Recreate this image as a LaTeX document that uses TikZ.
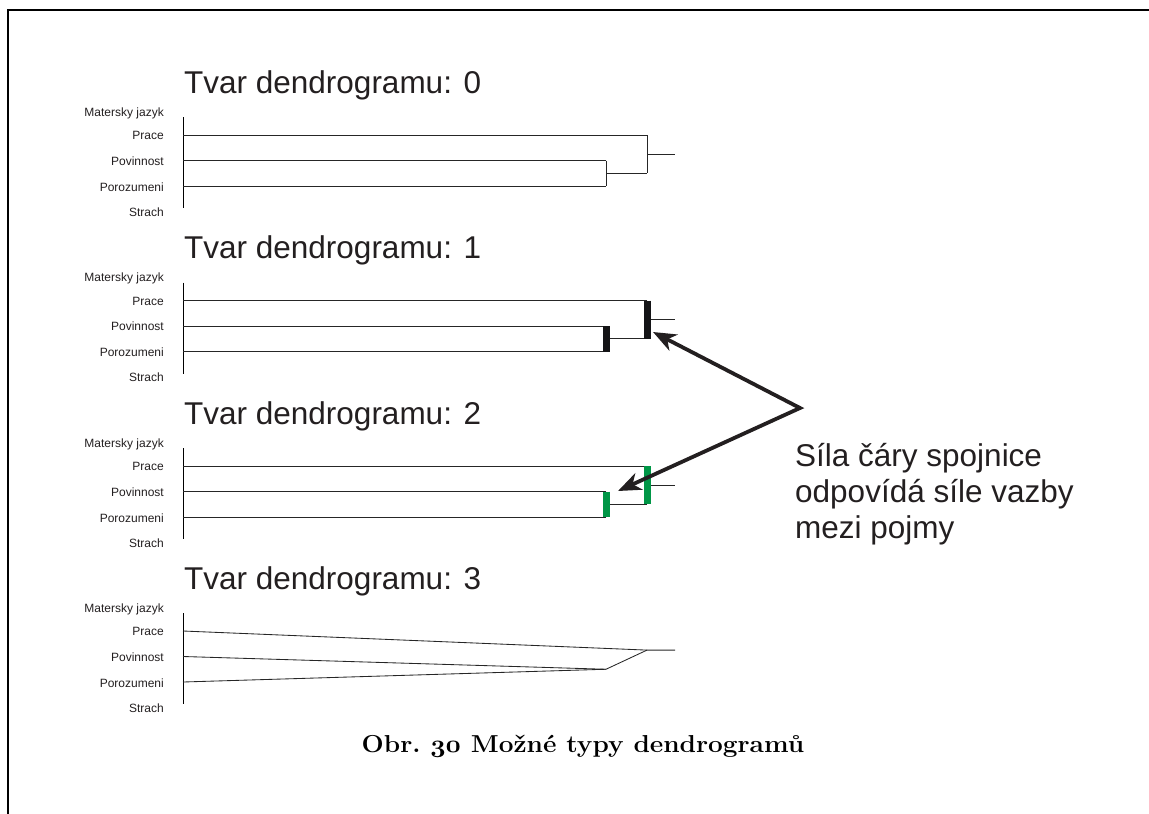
\documentclass[tikz,border=0pt]{standalone}
\usepackage{fontspec}
\usetikzlibrary{arrows.meta}
\newfontfamily\sansf{Liberation Sans}
\newcommand\ttlfont{\sansf\fontsize{31.5}{36}\selectfont}
\newcommand\labfont{\sansf\fontsize{12}{14}\selectfont}
\newcommand\capfont{\fontsize{24.5}{28}\selectfont\bfseries}
\newcommand\osnum[1]{{\usefont{OML}{cmm}{b}{it}#1}}
\definecolor{ink}{RGB}{35,31,32}
\definecolor{barblack}{RGB}{20,20,22}
\definecolor{bargreen}{RGB}{0,150,70}
\begin{document}
\begin{tikzpicture}[x=1pt,y=-1pt,
  frame/.style={line width=1.8pt,black},
  ttl/.style={font=\ttlfont,text=ink,inner sep=0pt,anchor=base west},
  lab/.style={font=\labfont,text=ink,inner sep=0pt,anchor=base east},
  wire/.style={line width=0.85pt,black!85},
  axisline/.style={line width=1pt,black},
  barline/.style={line width=7pt},
  pointer/.style={line width=3.8pt,ink,line join=miter,
    {Stealth[length=23pt,width=18pt,inset=7pt]}-{Stealth[length=23pt,width=18pt,inset=7pt]}},
  note/.style={font=\ttlfont,text=ink,inner sep=0pt,anchor=base west},
  caption/.style={font=\capfont,text=black,inner sep=0pt,anchor=base,xscale=1.07}]
\useasboundingbox (0,0) rectangle (1149,814);

% page frame: top and left edges
\draw[frame] (1149,10) -| (8,814);

% four dendrogram panels
\foreach \k/\b in {0/135,1/300.5,2/466,3/631}{
  \node[ttl] (title\k) at (184,\b-42) {Tvar dendrogramu: \k};
  \node[lab] (mj\k) at (164,\b-19) {Matersky jazyk};
  \node[lab] (pr\k) at (164,\b+4.5) {Prace};
  \node[lab] (po\k) at (164,\b+30) {Povinnost};
  \node[lab] (pz\k) at (164,\b+56) {Porozumeni};
  \node[lab] (st\k) at (164,\b+81) {Strach};
  \coordinate (axt\k) at (183,\b-18);
  \coordinate (axb\k) at (183,\b+73);
  \draw[axisline] (axt\k) -- (axb\k);
  \coordinate (la\k) at (183,\b);
  \coordinate (lb\k) at (183,\b+25.5);
  \coordinate (lc\k) at (183,\b+51);
}

% panels 0-2: rectangular joins
\foreach \k/\b in {0/135,1/300.5,2/466}{
  \coordinate (ja\k) at (647,\b);
  \coordinate (jb\k) at (606,\b+25.5);
  \coordinate (jc\k) at (606,\b+51);
  \coordinate (jm\k) at (606,\b+38.25);
  \coordinate (jn\k) at (647,\b+38.25);
  \coordinate (js\k) at (647,\b+19.1);
  \coordinate (se\k) at (675,\b+19.1);
  \draw[wire] (la\k) -- (ja\k);
  \draw[wire] (lb\k) -- (jb\k);
  \draw[wire] (lc\k) -- (jc\k);
  \draw[wire] (jb\k) -- (jc\k);
  \draw[wire] (jm\k) -- (jn\k);
  \draw[wire] (ja\k) -- (jn\k);
  \draw[wire] (js\k) -- (se\k);
}

% thick joins showing link strength
\draw[barline,barblack] (ja1) -- (jn1);
\draw[barline,barblack] (jb1) -- (jc1);
\draw[barline,bargreen] (ja2) -- (jn2);
\draw[barline,bargreen] (jb2) -- (jc2);

% panel 3: slanted joins
\coordinate (ja3) at (647,631+19.1);
\coordinate (jm3) at (606,631+38.25);
\coordinate (se3) at (675,631+19.1);
\draw[wire] (la3) -- (ja3);
\draw[wire] (lb3) -- (jm3);
\draw[wire] (lc3) -- (jm3);
\draw[wire] (jm3) -- (ja3) -- (se3);

% explanatory note with arrows
\coordinate (tip1) at (653,332);
\coordinate (tip2) at (618,491);
\coordinate (apex) at (800,408);
\draw[pointer] (tip1) -- (apex) -- (tip2);
\node[note] (n1) at (795,466.7) {Síla čáry spojnice};
\node[note] (n2) at (795,502.7) {odpovídá síle vazby};
\node[note] (n3) at (795,538.3) {mezi pojmy};

% figure caption
\node[caption] (cap) at (583,752) {Obr.\ \osnum{30} Možné typy dendrogramů};
\end{tikzpicture}
\end{document}
